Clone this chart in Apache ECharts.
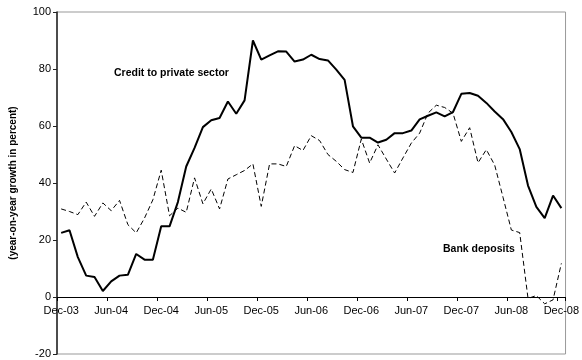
<!DOCTYPE html>
<html>
<head>
<meta charset="utf-8">
<script src="https://cdn.jsdelivr.net/npm/echarts@6/dist/echarts.min.js"></script>
<style>
html,body{margin:0;padding:0;background:#fff;}
#chart{width:582px;height:360px;}
</style>
</head>
<body>
<div id="chart"></div>
<script>
// Categories: monthly, Dec-03 .. Dec-08
var monthNames = ["Jan","Feb","Mar","Apr","May","Jun","Jul","Aug","Sep","Oct","Nov","Dec"];
var categories = ["Dec-03"];
for (var y = 4; y <= 8; y++) {
  for (var m = 0; m < 12; m++) {
    categories.push(monthNames[m] + "-0" + y);
  }
}

var creditToPrivateSector = [22.5, 23.4, 14.0, 7.5, 7.0, 2.1, 5.5, 7.5, 7.8, 15.1, 13.1, 13.1, 24.8,
  24.8, 33.3, 45.8, 52.3, 59.6, 62.0, 62.8, 68.6, 64.3, 69.0, 90.0, 83.3,
  84.8, 86.2, 86.1, 82.6, 83.3, 85.0, 83.5, 83.0, 79.8, 76.2, 59.9, 55.9,
  55.9, 54.2, 55.2, 57.5, 57.5, 58.4, 62.3, 63.6, 64.8, 63.4, 64.9, 71.3,
  71.6, 70.6, 68.1, 65.1, 62.4, 57.9, 51.9, 39.1, 31.6, 27.7, 35.6, 31.2];

var bankDeposits = [30.9, 30.0, 28.9, 33.3, 28.3, 33.0, 30.3, 33.9, 25.4, 22.5, 27.7, 34.1, 44.5,
  28.5, 31.2, 29.7, 41.8, 32.7, 37.9, 30.9, 41.4, 42.9, 44.4, 46.7, 31.8,
  46.7, 46.7, 45.8, 53.1, 51.4, 56.6, 54.9, 50.0, 47.6, 44.7, 43.7, 55.4,
  47.0, 53.4, 48.4, 43.5, 48.8, 54.0, 57.5, 64.5, 67.3, 66.5, 64.5, 54.6,
  59.4, 47.1, 51.7, 46.3, 35.0, 23.5, 22.6, -0.5, 0.5, -2.4, -1.0, 11.8];

var yTicks = [-20, 0, 20, 40, 60, 80, 100];
var yTitle = "(year-on-year growth in percent)";
var creditLabel = "Credit to private sector";
var depositsLabel = "Bank deposits";

var W = 582, H = 360;
var gridL = 49, gridR = 12, gridT = 12, gridB = 6;
var yMin = yTicks[0], yMax = yTicks[yTicks.length - 1];
var gridH = H - gridT - gridB;
// place the category axis on the zero line
var zeroOffset = -((0 - yMin) / (yMax - yMin)) * gridH;

var chart = echarts.init(document.getElementById('chart'), null, {renderer: 'canvas'});
var font = 'Liberation Sans, Arial, sans-serif';

chart.setOption({
  animation: false,
  backgroundColor: '#fff',
  grid: {
    left: gridL, right: gridR, top: gridT, bottom: gridB,
    containLabel: false,
    show: true, borderColor: '#999', borderWidth: 1
  },
  xAxis: {
    type: 'category',
    data: categories,
    boundaryGap: true,
    position: 'bottom',
    offset: zeroOffset,
    axisLine: {show: true, onZero: false, lineStyle: {color: '#000', width: 1}},
    axisTick: {show: true, interval: 5, length: 4, lineStyle: {color: '#000'}},
    axisLabel: {interval: 5, margin: 8, fontSize: 11, color: '#000', fontFamily: font},
    splitLine: {show: false}
  },
  yAxis: {
    type: 'value',
    min: yMin, max: yMax, interval: 20,
    name: yTitle,
    nameLocation: 'middle',
    nameGap: 39,
    nameRotate: 90,
    nameTextStyle: {fontSize: 10, fontWeight: 'bold', color: '#000', fontFamily: font},
    axisLine: {show: true, lineStyle: {color: '#222', width: 1.5}},
    axisTick: {show: true, length: 4, lineStyle: {color: '#222'}},
    axisLabel: {fontSize: 11, color: '#000', margin: 6, fontFamily: font},
    splitLine: {show: false}
  },
  graphic: [
    {type: 'text', left: 114, top: 68,
     style: {text: creditLabel, font: 'bold 10.5px ' + font, fill: '#000'}},
    {type: 'text', left: 443, top: 244,
     style: {text: depositsLabel, font: 'bold 10.5px ' + font, fill: '#000'}}
  ],
  series: [
    {
      name: creditLabel, type: 'line', data: creditToPrivateSector,
      showSymbol: false, symbol: 'none',
      lineStyle: {color: '#000', width: 2}
    },
    {
      name: depositsLabel, type: 'line', data: bankDeposits,
      showSymbol: false, symbol: 'none',
      lineStyle: {color: '#000', width: 1, type: [5, 3]}
    }
  ]
});
</script>
</body>
</html>
